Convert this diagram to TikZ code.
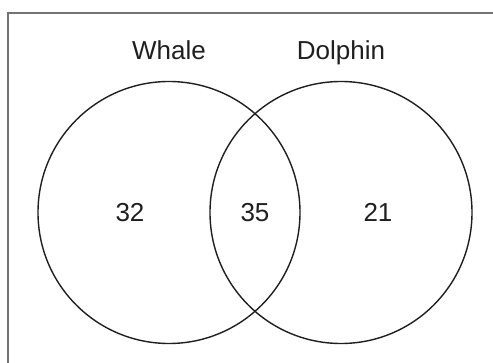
\documentclass[tikz,border=0pt]{standalone}
\usepackage{fontspec}
\setmainfont{Liberation Sans}
\begin{document}
\begin{tikzpicture}[x=1pt,y=-1pt,
  setcircle/.style={draw=black!88,line width=1.4pt},
  lbl/.style={anchor=base,inner sep=0pt,text=black!88,font=\fontsize{26}{30}\selectfont},
  frame/.style={draw=black!55,line width=1.3pt}]
\useasboundingbox (0,0) rectangle (493,363);
\coordinate (fbl) at (8,363);
\coordinate (ftl) at (8,13);
\coordinate (ftr) at (493,13);
\draw[frame] (fbl) -- (ftl) -- (ftr);
\node[setcircle,circle,minimum size=262,inner sep=0pt] (whale) at (169,212.5) {};
\node[setcircle,circle,minimum size=262,inner sep=0pt] (dolphin) at (341,212.5) {};
\node[lbl] (tw) at (169,59.3) {Whale};
\node[lbl] (td) at (341,59.3) {Dolphin};
\node[lbl] (n32) at (130,221.7) {32};
\node[lbl] (n35) at (255,221.7) {35};
\node[lbl] (n21) at (378,221.7) {21};
\end{tikzpicture}
\end{document}
